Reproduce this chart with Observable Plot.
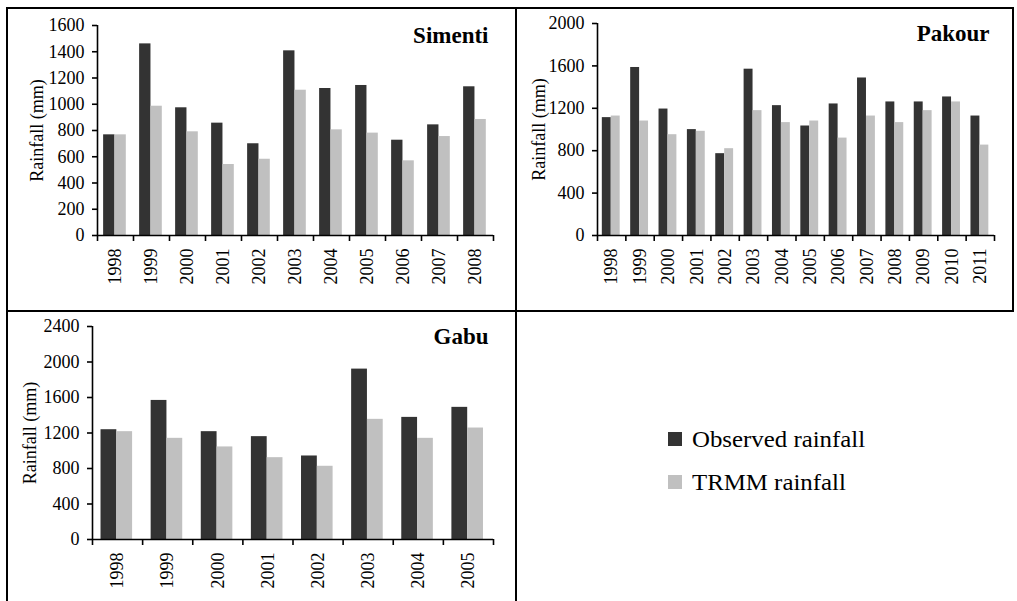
<!DOCTYPE html>
<html>
<head>
<meta charset="utf-8">
<script src="https://cdn.jsdelivr.net/npm/d3@7"></script>
<script src="https://cdn.jsdelivr.net/npm/@observablehq/plot@0.6"></script>
<style>
  html, body { margin: 0; padding: 0; background: #fff; font-family: 'Liberation Serif', 'Times New Roman', serif; }
  #page { position: relative; width: 1017px; height: 601px; overflow: hidden; }
  .panel { position: absolute; }
  .line { position: absolute; background: #000; z-index: 5; }
  .legrow { position: absolute; left: 668px; height: 23px; }
  .sw { position: absolute; left: 0; top: 4px; width: 14px; height: 14px; }
  .lt { position: absolute; left: 24px; top: 0; font-size: 23px; line-height: 23px; white-space: nowrap; color: #000; transform: scaleX(1.08); transform-origin: left center; }
</style>
</head>
<body>
<div id="page">
  <div class="panel" id="p1" style="left:0;top:0"></div>
  <div class="panel" id="p2" style="left:506px;top:0"></div>
  <div class="panel" id="p3" style="left:0;top:311px"></div>
  <div class="line" style="left:6px;top:7px;width:1008px;height:2px"></div>
  <div class="line" style="left:6px;top:7px;width:2px;height:594px"></div>
  <div class="line" style="left:515px;top:7px;width:2px;height:594px"></div>
  <div class="line" style="left:6px;top:310px;width:1008px;height:2px"></div>
  <div class="line" style="left:1012px;top:7px;width:2px;height:305px"></div>
  <div class="legrow" style="top:428px"><div class="sw" style="background:#333333"></div><div class="lt" id="lg1"></div></div>
  <div class="legrow" style="top:471px"><div class="sw" style="background:#c0c0c0"></div><div class="lt" id="lg2"></div></div>
</div>
<script>
// ---- Data ----
const seriesNames = ["Observed rainfall", "TRMM rainfall"];

const simentiYears = ["1998","1999","2000","2001","2002","2003","2004","2005","2006","2007","2008"];
const simentiObs   = [767, 1460, 973, 856, 699, 1407, 1120, 1143, 726, 843, 1133];
const simentiTrmm  = [767, 985, 790, 541, 581, 1107, 805, 780, 569, 754, 884];
const simentiTicks = [0, 200, 400, 600, 800, 1000, 1200, 1400, 1600];

const pakourYears = ["1998","1999","2000","2001","2002","2003","2004","2005","2006","2007","2008","2009","2010","2011"];
const pakourObs   = [1112, 1585, 1193, 999, 772, 1569, 1225, 1033, 1241, 1486, 1260, 1260, 1307, 1127];
const pakourTrmm  = [1127, 1080, 951, 983, 819, 1178, 1065, 1080, 919, 1127, 1065, 1178, 1260, 853];
const pakourTicks = [0, 400, 800, 1200, 1600, 2000];

const gabuYears = ["1998","1999","2000","2001","2002","2003","2004","2005"];
const gabuObs   = [1237, 1567, 1215, 1159, 941, 1920, 1376, 1489];
const gabuTrmm  = [1215, 1140, 1043, 922, 825, 1354, 1140, 1256];
const gabuTicks = [0, 400, 800, 1200, 1600, 2000, 2400];

const colors = {obs: "#333333", trmm: "#c0c0c0"};
const SERIF = "'Liberation Serif', 'Times New Roman', serif";

function panel(cfg) {
  const n = cfg.years.length;
  const rows = cfg.years.map((y, i) => ({i, year: y, obs: cfg.obs[i], trmm: cfg.trmm[i]}));
  const ymax = cfg.ticks[cfg.ticks.length - 1];
  const svg = Plot.plot({
    width: cfg.width, height: cfg.height,
    marginLeft: cfg.ml, marginRight: cfg.mr, marginTop: cfg.mt, marginBottom: cfg.mb,
    style: {fontSize: "18px", color: "#000", background: "transparent", overflow: "visible"},
    x: {type: "linear", domain: [0, n]},
    y: {domain: [0, ymax]},
    marks: [
      Plot.rectY(rows, {x1: d => d.i + 0.17, x2: d => d.i + 0.485, y: "obs", fill: colors.obs}),
      Plot.rectY(rows, {x1: d => d.i + 0.485, x2: d => d.i + 0.80, y: "trmm", fill: colors.trmm}),
      Plot.ruleX([0], {stroke: "#000", strokeWidth: 1.6}),
      Plot.ruleY([0], {stroke: "#000", strokeWidth: 1.6}),
      Plot.axisY({ticks: cfg.ticks, tickSize: 5, tickPadding: 8, tickFormat: d3.format("d"), label: null, strokeWidth: 1.6}),
      Plot.axisX({ticks: d3.range(n + 1), tickSize: 6, tickFormat: () => "", label: null, strokeWidth: 1.6}),
      Plot.axisX({ticks: d3.range(n).map(i => i + 0.5), tickSize: 0, tickPadding: 13, tickRotate: -90,
                  tickFormat: t => cfg.years[Math.floor(t)], label: null}),
      Plot.text([cfg.name], {frameAnchor: "top-right", dx: -5, dy: 1, fontSize: 23, fontWeight: "bold"}),
      Plot.text(["Rainfall (mm)"], {frameAnchor: "left", textAnchor: "middle", lineAnchor: "middle", rotate: -90, dx: cfg.labelDx, fontSize: 18})
    ]
  });
  svg.setAttribute("font-family", SERIF);
  svg.style.fontFamily = SERIF;
  svg.querySelectorAll("g").forEach(g => { if (g.hasAttribute("font-family")) g.setAttribute("font-family", SERIF); });
  return svg;
}

document.getElementById("p1").append(panel({
  name: "Simenti", years: simentiYears, obs: simentiObs, trmm: simentiTrmm, ticks: simentiTicks,
  width: 506, height: 311, ml: 97, mr: 13, mt: 25, mb: 76, labelDx: -60
}));
document.getElementById("p2").append(panel({
  name: "Pakour", years: pakourYears, obs: pakourObs, trmm: pakourTrmm, ticks: pakourTicks,
  width: 511, height: 311, ml: 91, mr: 23, mt: 23, mb: 76, labelDx: -58
}));
document.getElementById("p3").append(panel({
  name: "Gabu", years: gabuYears, obs: gabuObs, trmm: gabuTrmm, ticks: gabuTicks,
  width: 506, height: 290, ml: 92, mr: 13, mt: 15, mb: 62, labelDx: -62
}));
document.getElementById("lg1").textContent = seriesNames[0];
document.getElementById("lg2").textContent = seriesNames[1];
</script>
</body>
</html>
